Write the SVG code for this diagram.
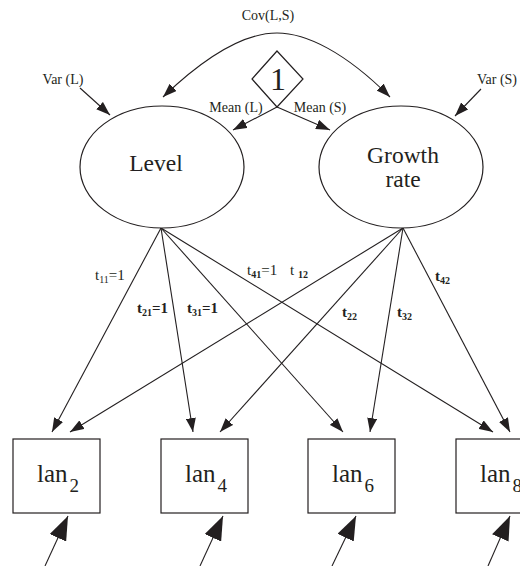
<svg xmlns="http://www.w3.org/2000/svg" width="520" height="566" viewBox="0 0 520 566">
  <style>
    .ln { stroke: #231f20; stroke-width: 1.1; fill: none; }
    .shape { stroke: #231f20; stroke-width: 1.2; fill: #ffffff; }
    text { font-family: "Liberation Serif", "Times New Roman", serif; fill: #231f20; }
    .lbl { font-size: 14px; }
    .tl { font-size: 15px; }
    .b { font-weight: bold; }
    .sub { font-size: 10px; }
  </style>
  <defs>
    <marker id="ah" markerUnits="userSpaceOnUse" markerWidth="14" markerHeight="10" refX="14" refY="5" orient="auto">
      <path d="M0,0 L14,5 L0,10 z" fill="#231f20"/>
    </marker>
    <marker id="ahBig" markerUnits="userSpaceOnUse" markerWidth="24" markerHeight="18" refX="24" refY="9" orient="auto">
      <path d="M0,0 L24,9 L0,18 z" fill="#231f20"/>
    </marker>
    <marker id="ahStart" markerUnits="userSpaceOnUse" markerWidth="14" markerHeight="10" refX="0" refY="5" orient="auto">
      <path d="M14,0 L0,5 L14,10 z" fill="#231f20"/>
    </marker>
  </defs>

  <!-- connectors -->
  <g id="connectors">
    <!-- covariance between latent factors -->
    <path class="ln" d="M163,97 C210,52 248,33 277,33 C306,33 345,52 390,97" marker-start="url(#ahStart)" marker-end="url(#ah)"/>
    <!-- variances -->
    <line class="ln" x1="80" y1="88" x2="110" y2="115" marker-end="url(#ah)"/>
    <line class="ln" x1="481" y1="89" x2="455" y2="116" marker-end="url(#ah)"/>
    <!-- means from constant -->
    <line class="ln" x1="277" y1="107" x2="233" y2="130" marker-end="url(#ah)"/>
    <line class="ln" x1="277" y1="107" x2="330" y2="130" marker-end="url(#ah)"/>
    <!-- loadings from Level -->
    <line class="ln" x1="161" y1="228" x2="52" y2="432" marker-end="url(#ah)"/>
    <line class="ln" x1="161" y1="228" x2="193" y2="432" marker-end="url(#ah)"/>
    <line class="ln" x1="161" y1="228" x2="343" y2="432" marker-end="url(#ah)"/>
    <line class="ln" x1="161" y1="228" x2="493" y2="432" marker-end="url(#ah)"/>
    <!-- loadings from Growth rate -->
    <line class="ln" x1="403" y1="228" x2="70" y2="432" marker-end="url(#ah)"/>
    <line class="ln" x1="403" y1="228" x2="220" y2="432" marker-end="url(#ah)"/>
    <line class="ln" x1="403" y1="228" x2="370" y2="432" marker-end="url(#ah)"/>
    <line class="ln" x1="403" y1="228" x2="510" y2="432" marker-end="url(#ah)"/>
    <!-- residuals -->
    <line class="ln" x1="45" y1="566" x2="68" y2="516" marker-end="url(#ahBig)"/>
    <line class="ln" x1="200" y1="566" x2="223" y2="516" marker-end="url(#ahBig)"/>
    <line class="ln" x1="332" y1="566" x2="356" y2="516" marker-end="url(#ahBig)"/>
    <line class="ln" x1="488" y1="566" x2="510" y2="516" marker-end="url(#ahBig)"/>
  </g>

  <!-- parameter labels -->
  <g id="labels">
    <text class="lbl" x="268" y="20" text-anchor="middle" font-size="16">Cov(L,S)</text>
    <text class="lbl" x="63" y="84" text-anchor="middle">Var (L)</text>
    <text class="lbl" x="497" y="84" text-anchor="middle">Var (S)</text>
    <text class="lbl" x="236" y="112" text-anchor="middle">Mean (L)</text>
    <text class="lbl" x="320" y="112" text-anchor="middle">Mean (S)</text>
    <text class="tl" x="95" y="280">t<tspan class="sub" dy="3">11</tspan><tspan dy="-3">=1</tspan></text>
    <text class="tl b" x="137" y="313">t<tspan class="sub" dy="3">21</tspan><tspan dy="-3">=1</tspan></text>
    <text class="tl b" x="187" y="313">t<tspan class="sub" dy="3">31</tspan><tspan dy="-3">=1</tspan></text>
    <text class="tl" x="247" y="275">t<tspan class="sub b" dy="3">41</tspan><tspan dy="-3">=1</tspan></text>
    <text class="tl" x="290" y="275">t <tspan class="sub b" dy="3">12</tspan></text>
    <text class="tl b" x="342" y="317">t<tspan class="sub" dy="3">22</tspan></text>
    <text class="tl b" x="397" y="317">t<tspan class="sub" dy="3">32</tspan></text>
    <text class="tl b" x="435" y="281">t<tspan class="sub" dy="3">42</tspan></text>
  </g>

  <!-- constant -->
  <g id="one">
    <polygon class="shape" points="277,51 303,79 277,107 252,79"/>
    <text x="278" y="90" text-anchor="middle" font-size="32">1</text>
  </g>

  <!-- latent factors -->
  <g id="level">
    <ellipse class="shape" cx="162" cy="167" rx="82" ry="61"/>
    <text x="156" y="171" text-anchor="middle" font-size="23.5">Level</text>
  </g>
  <g id="growth">
    <ellipse class="shape" cx="401" cy="167" rx="82" ry="61"/>
    <text x="403" y="163" text-anchor="middle" font-size="23.5">Growth</text>
    <text x="403" y="187" text-anchor="middle" font-size="23.5">rate</text>
  </g>

  <!-- observed measures -->
  <g id="lan2">
    <rect class="shape" x="13" y="439" width="87" height="74"/>
    <text x="37" y="482" font-size="25">lan<tspan font-size="19" dx="2" dy="10">2</tspan></text>
  </g>
  <g id="lan4">
    <rect class="shape" x="161" y="439" width="87" height="74"/>
    <text x="185" y="482" font-size="25">lan<tspan font-size="19" dx="2" dy="10">4</tspan></text>
  </g>
  <g id="lan6">
    <rect class="shape" x="308" y="439" width="87" height="74"/>
    <text x="332" y="482" font-size="25">lan<tspan font-size="19" dx="2" dy="10">6</tspan></text>
  </g>
  <g id="lan8">
    <rect class="shape" x="456" y="439" width="87" height="74"/>
    <text x="480" y="482" font-size="25">lan<tspan font-size="19" dx="2" dy="10">8</tspan></text>
  </g>
</svg>
